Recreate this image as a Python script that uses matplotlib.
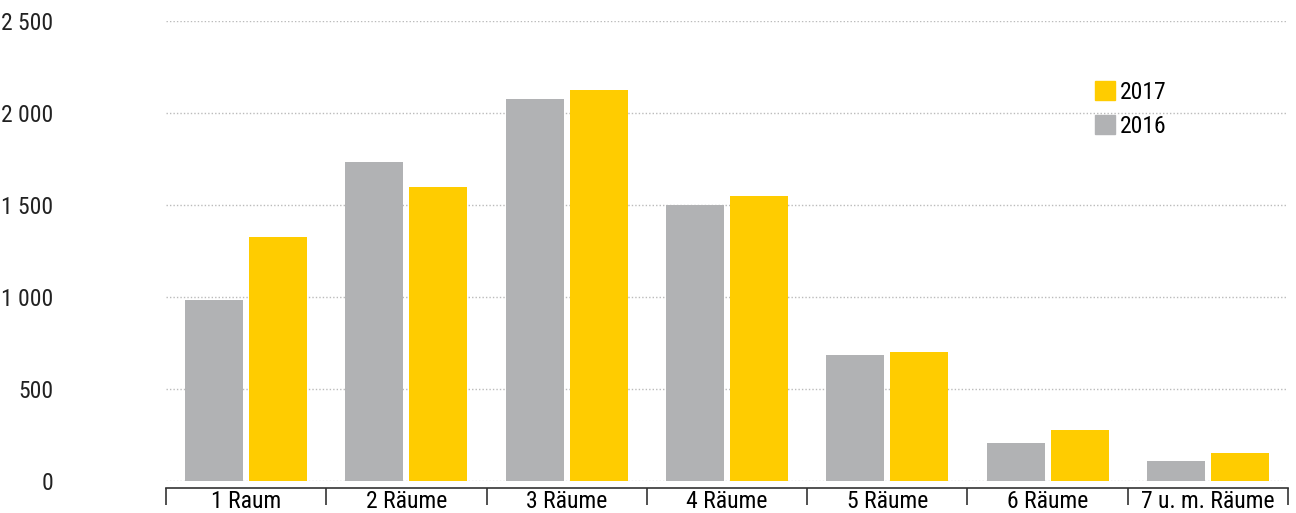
import matplotlib
matplotlib.use("Agg")
import matplotlib.pyplot as plt
from matplotlib.patches import Patch
import numpy as np

# Wohnungen nach Anzahl Räume
categories = ["1 Raum", "2 Räume", "3 Räume", "4 Räume", "5 Räume", "6 Räume", "7 u. m. Räume"]
values_2016 = [983, 1732, 2074, 1497, 684, 206, 109]
values_2017 = [1325, 1596, 2123, 1547, 700, 277, 152]
y_ticks = [0, 500, 1000, 1500, 2000, 2500]
y_ticklabels = ["0", "500", "1 000", "1 500", "2 000", "2 500"]

col_2016 = "#b1b2b4"
col_2017 = "#ffcc00"

plt.rcParams["font.family"] = ["Roboto Condensed", "Liberation Sans Narrow", "Roboto", "DejaVu Sans"]
plt.rcParams["font.size"] = 17

fig = plt.figure(figsize=(12.96, 5.13), dpi=100)
ax = fig.add_axes([166 / 1296, 1 - 481 / 513, (1288 - 166) / 1296, (481 - 20.5) / 513])

x = np.arange(len(categories))
w = 0.362
ax.bar(x - 0.2, values_2016, width=w, color=col_2016, zorder=2)
ax.bar(x + 0.2, values_2017, width=w, color=col_2017, zorder=2)

ax.set_xlim(-0.5, len(categories) - 0.5)
ax.set_ylim(0, 2500)

ax.set_yticks(y_ticks)
ax.set_yticklabels(y_ticklabels, color="#222222")
ax.tick_params(axis="y", length=0, pad=81)
ax.yaxis.grid(True, linestyle=(0, (1, 1.5)), color="#bbbbbb", linewidth=1, zorder=0)

# boundaries as major ticks, names centred as minor ticks
ax.set_xticks(np.arange(len(categories) + 1) - 0.5)
ax.set_xticklabels([])
ax.set_xticks(x, minor=True)
ax.set_xticklabels(categories, minor=True, color="#222222", fontsize=16.5)
ax.tick_params(axis="x", which="major", length=12, width=1.2, color="#333333", direction="out")
ax.tick_params(axis="x", which="minor", length=0, pad=1.5)

for s in ["top", "right", "left"]:
    ax.spines[s].set_visible(False)
ax.spines["bottom"].set_position(("outward", 5))
ax.spines["bottom"].set_color("#333333")
ax.spines["bottom"].set_linewidth(1.2)

handles = [Patch(color=col_2017, label="2017"), Patch(color=col_2016, label="2016")]
fig.legend(handles=handles, loc="upper left", bbox_to_anchor=(1095 / 1296, 1 - 81 / 513),
           bbox_transform=fig.transFigure, frameon=False, borderpad=0, borderaxespad=0,
           handlelength=0.85, handleheight=0.85, handletextpad=0.2, labelspacing=0.45)

fig.savefig("out.png", dpi=100)
